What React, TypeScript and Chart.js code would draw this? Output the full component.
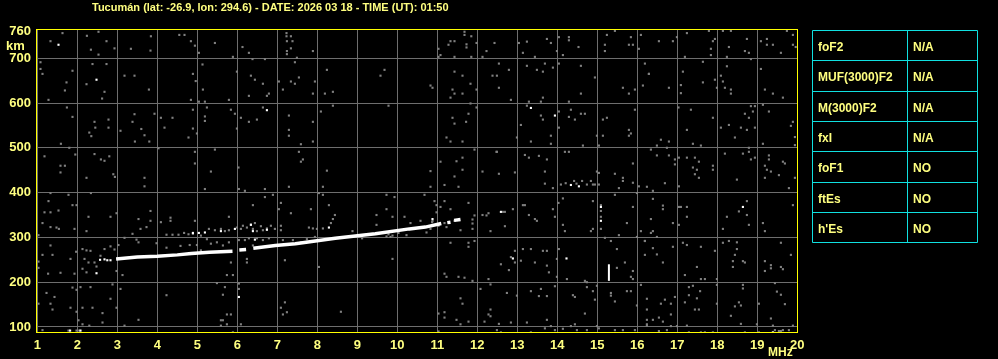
import React, { useEffect, useRef } from "react";
import { Chart, registerables } from "chart.js";

Chart.register(...registerables);

const TITLE = "Tucumán (lat: -26.9, lon: 294.6) - DATE: 2026 03 18 - TIME (UT): 01:50";
const FREQ_TICKS = [1, 2, 3, 4, 5, 6, 7, 8, 9, 10, 11, 12, 13, 14, 15, 16, 17, 18, 19, 20];
const HEIGHT_TICKS = [100, 200, 300, 400, 500, 600, 700, 760];
const X_UNIT = "MHz";
const Y_UNIT = "km";
const PARAM_NAMES = ["foF2", "MUF(3000)F2", "M(3000)F2", "fxI", "foF1", "ftEs", "h'Es"];
const PARAM_VALUES = ["N/A", "N/A", "N/A", "N/A", "NO", "NO", "NO"];

// F-layer trace (MHz, km); null km = gap in the echo
const TRACE_FREQ = [2.97, 3.5, 4.0, 4.5, 4.85, 5.3, 5.88, 5.95, 6.05, 6.22, 6.3, 6.4, 6.95, 7.45, 7.95, 8.45, 9.45, 10.3, 10.7, 11.1, 11.18, 11.25, 11.33, 11.38, 11.42, 11.58];
const TRACE_KM = [252, 256, 258, 261, 264, 267, 269, null, 272, 273, null, 276, 282, 286, 292, 298, 308, 319, 323, 331, null, 333, 334, null, 338, 340];

// vertical echo near 15.3 MHz
const SPIKE_FREQ = [15.29, 15.29];
const SPIKE_KM = [203, 240];

// bright single echoes
const WHITE_DOTS: [number, number][] = [
  [1.53, 730], [2.48, 652], [2.48, 220], [1.82, 92], [2.08, 92], [2.57, 250], [2.68, 251], [2.75, 249], [2.83, 249],
  [6.74, 584], [6.04, 167], [13.34, 589], [13.94, 572], [14.34, 417], [14.54, 414], [12.59, 357], [15.09, 337],
  [15.09, 368], [12.89, 253], [14.23, 253], [18.64, 368], [19.39, 88], [4.89, 310], [5.04, 310], [5.19, 311],
  [5.59, 314], [5.94, 319], [6.34, 328], [6.39, 314], [6.74, 317], [8.29, 322], [6.44, 295], [10.88, 341],
];

const GREY_DOTS_1_5: [number, number][] = [
  [1.63, 756], [2.24, 750], [2.34, 719], [2.53, 759], [2.53, 708], [2.73, 738], [2.93, 722], [3.34, 721], [3.84, 749],
  [3.83, 717], [4.55, 752], [4.68, 752], [1.33, 738], [1.08, 691], [1.08, 676], [1.13, 665], [1.88, 672], [1.73, 646],
  [1.69, 628], [2.38, 687], [2.73, 687], [2.23, 642], [2.62, 610], [2.68, 625], [3.18, 661], [3.43, 661], [3.79, 630],
  [1.28, 607], [1.74, 590], [1.88, 569], [2.43, 558], [2.78, 563], [2.45, 545], [2.3, 534], [2.35, 526], [2.78, 545],
  [3.08, 538], [3.43, 575], [3.38, 558], [3.6, 542], [3.68, 528], [3.44, 514], [3.8, 514], [3.93, 576], [4.09, 567],
  [4.38, 567], [4.18, 545], [4.78, 523], [1.59, 509], [1.18, 481], [1.58, 460], [1.69, 460], [1.58, 445], [1.8, 500],
  [1.95, 485], [2.43, 486], [2.59, 474], [2.68, 471], [2.8, 481], [2.23, 433], [2.9, 441], [2.94, 435], [3.68, 433],
  [3.68, 414], [4.03, 499], [1.33, 399], [1.28, 381], [1.78, 395], [1.88, 372], [1.98, 372], [1.33, 356], [1.53, 360],
  [1.18, 356], [1.13, 332], [1.33, 323], [1.48, 322], [1.54, 319], [1.93, 319], [2.23, 314], [2.28, 346], [2.34, 399],
  [2.83, 346], [2.98, 354], [3.38, 308], [3.53, 341], [3.58, 319], [3.73, 323], [3.83, 359], [3.83, 337], [4.09, 334],
  [4.33, 344], [4.33, 337], [4.23, 306], [4.38, 306], [4.53, 306], [4.67, 310], [4.78, 307], [1.03, 305], [2.13, 274],
  [2.23, 271], [2.33, 270], [2.18, 252], [2.28, 244], [2.13, 230], [2.23, 222], [2.43, 244], [2.48, 235], [2.58, 259],
  [2.68, 274], [2.83, 280], [2.93, 273], [3.03, 283], [3.18, 299], [3.48, 295], [3.53, 289], [3.98, 287], [4.58, 281],
  [1.97, 268], [1.83, 252], [1.33, 282], [1.38, 261], [1.13, 261], [1.03, 246], [1.03, 232], [1.27, 219], [1.58, 221],
  [1.93, 219], [3.13, 216], [2.98, 225], [4.23, 277], [2.88, 195], [3.08, 185], [1.23, 176], [1.43, 167], [1.88, 188],
  [1.98, 183], [2.08, 189], [2.33, 189], [1.33, 152], [1.03, 152], [1.38, 139], [1.83, 143], [1.98, 134], [2.13, 143],
  [2.38, 143], [2.63, 131], [2.98, 143], [2.83, 163], [4.23, 171], [3.53, 116], [2.63, 110], [2.13, 106], [2.3, 103],
  [3.18, 103], [1.13, 93], [2.03, 115], [1.78, 92], [1.98, 92], [2.05, 92],
];

const GREY_DOTS_5_9: [number, number][] = [
  [7.23, 756], [7.23, 749], [7.34, 749], [7.24, 738], [7.38, 738], [7.34, 722], [7.24, 716], [7.24, 709], [7.49, 701],
  [7.44, 691], [5.44, 734], [6.13, 725], [6.29, 712], [6.38, 698], [6.69, 698], [5.89, 703], [7.89, 716], [4.84, 738],
  [4.94, 728], [5.04, 712], [5.13, 686], [4.89, 665], [4.96, 649], [5.14, 630], [5.99, 670], [6.34, 661], [6.44, 652],
  [6.64, 643], [6.29, 616], [6.74, 616], [6.79, 621], [7.04, 648], [7.14, 630], [7.34, 648], [7.44, 643], [7.54, 657],
  [7.89, 621], [7.94, 648], [8.24, 674], [8.19, 621], [8.39, 625], [4.84, 607], [5.04, 603], [5.19, 603], [5.79, 607],
  [4.89, 585], [5.24, 590], [5.19, 570], [5.19, 560], [5.84, 585], [5.94, 576], [5.99, 543], [6.09, 567], [6.29, 558],
  [6.49, 563], [6.64, 590], [7.29, 572], [7.29, 540], [7.29, 527], [7.89, 558], [8.09, 581], [8.39, 594], [4.89, 543],
  [4.99, 532], [4.94, 491], [4.94, 465], [5.44, 496], [5.34, 447], [6.03, 456], [7.59, 508], [7.54, 491], [7.64, 474],
  [7.59, 469], [7.89, 514], [8.24, 449], [7.29, 413], [8.14, 413], [6.04, 408], [6.19, 404], [6.69, 408], [6.69, 390],
  [6.89, 395], [5.19, 408], [8.04, 399], [8.14, 395], [7.09, 377], [7.04, 363], [6.39, 372], [7.34, 354], [7.84, 363],
  [8.29, 372], [8.44, 350], [8.39, 341], [8.34, 332], [5.79, 346], [4.94, 337],
  [5.29, 319], [5.44, 316], [5.59, 319], [5.69, 314], [5.79, 316], [5.99, 322], [6.09, 319], [6.14, 326], [6.24, 322],
  [6.34, 329], [6.39, 319], [6.44, 332], [6.49, 314], [6.59, 325], [6.64, 316], [6.74, 320], [6.84, 326], [6.94, 319],
  [7.09, 326], [7.09, 316], [7.79, 322], [7.89, 320], [7.99, 319], [8.14, 320], [4.89, 308], [5.09, 304], [5.24, 296],
  [5.34, 286], [5.49, 289], [5.64, 282], [5.79, 289], [6.04, 294], [6.19, 294], [6.29, 298], [6.49, 298], [6.64, 294],
  [6.79, 298], [7.14, 294], [7.39, 294], [7.59, 289], [7.74, 296], [7.94, 301], [4.81, 283], [4.99, 283],
  [5.09, 271], [5.54, 268], [6.39, 282], [6.24, 252], [6.24, 244], [5.84, 244], [7.19, 249], [8.04, 234], [5.74, 216],
  [5.89, 216], [5.49, 198], [5.69, 189], [6.04, 197], [6.04, 185], [5.64, 172], [7.19, 155], [7.09, 143], [7.24, 133],
  [7.14, 128], [8.59, 134], [5.74, 128], [5.84, 128], [5.64, 115], [5.59, 115], [5.74, 106], [5.59, 103], [6.09, 106],
  [5.89, 88],
];

const GREY_DOTS_9_12: [number, number][] = [
  [11.68, 759], [11.68, 752], [11.85, 749], [11.33, 738], [11.43, 738], [11.28, 730], [11.73, 731], [11.73, 724],
  [11.98, 734], [12.43, 734], [11.03, 721], [11.08, 707], [11.03, 703], [11.43, 703], [11.85, 703], [12.23, 716],
  [12.13, 703], [9.68, 674], [9.58, 661], [10.83, 639], [10.88, 634], [11.43, 670], [11.63, 661], [11.83, 643],
  [11.38, 630], [11.43, 621], [11.33, 612], [11.63, 621], [11.98, 630], [12.38, 661], [9.78, 594], [11.83, 599],
  [11.98, 590], [11.78, 576], [11.38, 567], [11.43, 554], [11.23, 523], [11.33, 514], [11.63, 514], [11.72, 558],
  [11.93, 496], [11.08, 469], [11.48, 470], [11.63, 478], [11.63, 451], [10.83, 448], [11.43, 436], [11.18, 417],
  [11.53, 413], [10.83, 413], [12.13, 447], [12.48, 491], [9.73, 395], [9.93, 390], [10.68, 395], [10.93, 381],
  [11.18, 381], [10.98, 372], [11.08, 368], [11.33, 363], [11.78, 377], [9.73, 363], [9.48, 350], [9.48, 328],
  [9.88, 346], [10.18, 346], [10.33, 332], [10.58, 337], [10.98, 356], [10.88, 337], [11.93, 349], [12.13, 350],
  [12.23, 349], [12.28, 354], [11.88, 340], [11.88, 331], [11.88, 319], [12.33, 314], [11.58, 316], [11.23, 323],
  [8.88, 314], [10.23, 305], [9.88, 304], [9.83, 301], [11.33, 288], [11.78, 288], [11.78, 279], [11.93, 292],
  [9.88, 252], [11.18, 219], [11.23, 212], [11.53, 212], [11.68, 210], [11.88, 203], [12.28, 207], [12.33, 195],
  [12.08, 185], [11.58, 164], [11.63, 152], [11.03, 130], [11.18, 133], [11.18, 121], [11.48, 116], [11.78, 112],
  [12.18, 112], [12.28, 128], [12.33, 124], [12.33, 139], [11.03, 90], [11.58, 106], [9.12, 298], [9.73, 302],
  [9.78, 307], [10.03, 310], [10.73, 311], [10.83, 319], [10.87, 334], [11.03, 326], [11.18, 332], [11.43, 337],
];

const GREY_DOTS_12_16: [number, number][] = [
  [14.29, 747], [14.29, 740], [13.74, 743], [13.84, 734], [13.24, 737], [13.04, 734], [14.04, 747], [15.24, 752],
  [15.19, 730], [15.19, 716], [15.84, 747], [15.89, 730], [15.79, 730], [16.09, 752], [16.04, 721], [15.44, 761],
  [14.53, 725], [14.14, 707], [13.14, 712], [13.44, 703], [13.99, 716], [12.54, 688], [12.79, 674], [12.49, 661],
  [13.24, 683], [13.49, 674], [13.64, 670], [13.69, 688], [13.89, 679], [14.04, 688], [14.59, 683], [14.94, 657],
  [12.54, 634], [12.84, 607], [13.29, 603], [13.59, 603], [13.64, 612], [14.29, 603], [14.59, 621], [15.64, 634],
  [15.79, 621], [15.94, 630], [16.19, 688], [16.14, 639], [16.29, 665], [13.24, 594], [13.09, 551], [13.59, 572],
  [13.64, 563], [13.84, 527], [13.84, 509], [12.99, 523], [13.34, 514], [14.04, 581], [14.04, 545], [14.34, 585],
  [14.29, 569], [14.44, 563], [14.59, 576], [14.69, 576], [15.14, 563], [15.24, 567], [14.99, 527], [15.14, 527],
  [15.79, 540], [15.84, 532], [15.79, 527], [15.94, 585], [14.64, 505], [15.04, 505], [12.49, 491], [13.19, 484],
  [13.29, 478], [13.54, 482], [13.74, 474], [14.19, 491], [14.29, 491], [15.89, 465], [12.54, 442], [12.94, 445],
  [13.69, 447], [13.69, 420], [13.89, 410], [14.99, 447], [15.04, 444], [15.44, 442], [15.64, 433], [15.64, 426],
  [15.89, 422], [16.04, 414], [15.54, 410], [14.09, 418], [14.21, 421], [14.42, 426], [14.48, 420], [14.62, 426],
  [14.74, 418], [14.84, 426], [14.89, 418], [14.94, 418], [15.04, 418], [12.64, 357], [12.69, 357], [13.14, 372],
  [13.19, 372], [13.29, 350], [13.44, 341], [13.49, 337], [12.69, 325], [12.89, 363], [13.89, 363], [13.94, 346],
  [14.03, 377], [14.14, 387], [14.14, 328], [14.19, 314], [14.89, 381], [14.89, 319], [14.84, 314], [15.09, 372],
  [15.09, 359], [15.09, 346], [15.09, 319], [15.44, 395], [15.89, 368], [15.74, 332], [16.09, 314], [15.99, 399],
  [16.24, 413], [15.19, 299], [15.54, 305], [15.99, 301], [13.14, 274], [13.34, 274], [12.94, 270], [12.84, 256],
  [12.94, 244], [12.59, 240], [12.79, 227], [13.09, 248], [13.44, 244], [13.74, 237], [13.79, 222], [13.64, 270],
  [13.74, 270], [13.99, 252], [13.99, 212], [14.24, 207], [14.69, 203], [14.74, 200], [14.04, 274], [15.34, 292],
  [15.49, 274], [15.49, 232], [15.69, 244], [15.89, 225], [15.89, 207], [15.84, 212], [16.19, 261], [16.19, 292],
  [12.74, 176], [12.99, 170], [13.34, 180], [13.54, 169], [13.59, 185], [13.74, 169], [13.94, 191], [14.39, 171],
  [14.44, 167], [14.74, 189], [14.89, 180], [14.94, 161], [14.99, 192], [15.34, 176], [15.34, 170], [15.44, 157],
  [15.74, 180], [15.84, 180], [16.09, 194], [15.99, 148], [16.24, 139], [14.69, 130], [12.54, 107], [12.84, 110],
  [13.24, 110], [13.74, 116], [13.84, 102], [14.34, 102], [14.44, 106], [14.49, 93], [14.14, 96], [13.94, 93],
  [14.99, 102], [15.04, 97], [15.44, 93], [15.64, 93], [15.94, 93], [16.24, 106], [12.49, 93], [12.59, 88],
  [13.34, 88], [14.74, 93], [13.69, 97],
];

const GREY_DOTS_16_20: [number, number][] = [
  [17.24, 756], [17.79, 761], [18.14, 761], [18.34, 761], [17.94, 743], [17.89, 738], [17.84, 721], [17.84, 707],
  [16.54, 738], [16.89, 738], [16.99, 747], [17.19, 703], [18.29, 725], [18.24, 703], [18.69, 716], [18.79, 712],
  [18.74, 743], [19.09, 738], [19.24, 743], [19.24, 730], [19.39, 730], [19.59, 712], [19.74, 761], [19.89, 752],
  [19.89, 730], [19.96, 725], [16.29, 665], [16.79, 634], [17.09, 640], [17.09, 622], [17.14, 670], [17.64, 692],
  [17.64, 646], [17.94, 652], [18.09, 661], [18.14, 648], [18.19, 634], [18.24, 682], [18.34, 630], [18.34, 621],
  [18.84, 698], [19.09, 676], [19.19, 630], [19.39, 621], [19.64, 612], [17.99, 634], [17.03, 590], [17.34, 585],
  [17.89, 567], [17.24, 540], [18.29, 551], [18.09, 545], [18.44, 523], [18.59, 545], [18.69, 576], [18.79, 567],
  [18.74, 540], [18.84, 593], [18.94, 593], [18.89, 581], [18.94, 545], [19.14, 596], [19.29, 581], [19.14, 509],
  [19.89, 558], [19.84, 549], [19.94, 524], [19.94, 506], [16.59, 518], [16.79, 514], [16.49, 505], [16.74, 500],
  [17.39, 509], [17.59, 505], [16.34, 496], [16.49, 483], [16.79, 483], [16.94, 474], [16.94, 463], [17.04, 478],
  [17.24, 478], [17.44, 478], [17.54, 469], [17.39, 456], [17.49, 451], [17.44, 441], [17.54, 433], [17.89, 460],
  [17.89, 451], [18.19, 487], [18.64, 487], [18.79, 491], [18.84, 474], [18.94, 478], [18.79, 500], [19.19, 460],
  [19.29, 483], [19.29, 474], [19.24, 451], [19.34, 447], [19.64, 469], [19.69, 465], [19.54, 439], [19.94, 433],
  [19.19, 433], [17.04, 414], [16.69, 421], [18.49, 429], [19.79, 410], [16.39, 404], [16.39, 386], [16.64, 371],
  [16.64, 363], [17.04, 368], [17.09, 368], [17.24, 368], [17.24, 346], [17.04, 328], [16.89, 332], [16.34, 341],
  [16.39, 314], [16.34, 310], [16.49, 301], [18.24, 346], [18.54, 358], [18.74, 381], [18.74, 350], [18.79, 328],
  [18.14, 319], [19.14, 332], [19.19, 314], [19.89, 372], [16.19, 292], [16.39, 276], [16.49, 262], [16.64, 244],
  [16.89, 279], [17.14, 288], [17.24, 283], [17.59, 279], [17.94, 270], [18.14, 288], [18.29, 292], [18.49, 289],
  [18.49, 274], [18.44, 261], [18.39, 247], [18.39, 234], [18.64, 247], [18.69, 244], [17.49, 234], [17.19, 216],
  [17.59, 207], [17.69, 207], [17.99, 207], [19.34, 238], [19.34, 231], [19.59, 234], [19.64, 229], [19.19, 225],
  [19.59, 288], [19.84, 261], [19.19, 247], [17.29, 189], [17.39, 192], [17.29, 171], [17.57, 180], [17.99, 194],
  [18.64, 194], [18.64, 186], [19.44, 198], [19.49, 179], [19.59, 172], [19.69, 151], [19.04, 152], [16.24, 163],
  [16.59, 152], [16.69, 161], [16.84, 152], [16.84, 128], [16.94, 167], [17.19, 155], [17.44, 139], [17.49, 164],
  [17.54, 139], [17.99, 152], [18.34, 125], [18.44, 146], [18.54, 155], [18.59, 148], [16.24, 116], [16.39, 116],
  [16.54, 121], [16.64, 112], [16.24, 103], [16.84, 102], [16.99, 102], [17.24, 103], [18.59, 107], [18.99, 106],
  [19.34, 119], [19.39, 103], [19.44, 93], [19.64, 93], [19.79, 93], [19.89, 103], [16.54, 91], [16.74, 93],
  [17.29, 88], [17.59, 88], [17.69, 88], [17.89, 88], [18.69, 88], [19.04, 88], [19.54, 91], [19.59, 91],
];

const TEXT_COLOR = "#FFFF80";
const FRAME_COLOR = "#FFFF00";
const GRID_COLOR = "#6E6E6E";
const DOT_COLOR = "#808080";
const TABLE_COLOR = "#10E0E0";

const toPoints = (arr: [number, number][]) => arr.map(([x, y]) => ({ x, y }));

const decorPlugin = {
  id: "ionoDecor",
  afterDraw(chart: any) {
    const { ctx, chartArea } = chart;
    ctx.save();
    // frame
    ctx.strokeStyle = FRAME_COLOR;
    ctx.lineWidth = 1;
    ctx.strokeRect(chartArea.left + 0.5, chartArea.top + 0.5, chartArea.right - chartArea.left - 1, chartArea.bottom - chartArea.top - 1);
    // title
    ctx.fillStyle = TEXT_COLOR;
    ctx.textBaseline = "alphabetic";
    ctx.textAlign = "left";
    ctx.font = 'bold 11px "Liberation Sans", Arial, sans-serif';
    ctx.fillText(TITLE, 92, 11);
    // unit labels
    ctx.font = 'bold 13px "Liberation Sans", Arial, sans-serif';
    ctx.fillText(Y_UNIT, 6, 49.5);
    ctx.font = 'bold 12px "Liberation Sans", Arial, sans-serif';
    ctx.fillText(X_UNIT, 768, 356);
    // parameter table
    const tl = 812.5, tm = 907.5, tr = 977.5, tt = 30.5, rh = 30.3;
    const n = PARAM_NAMES.length;
    ctx.strokeStyle = TABLE_COLOR;
    ctx.lineWidth = 1;
    ctx.beginPath();
    for (let i = 0; i <= n; i++) {
      const y = Math.round(tt + i * rh - 0.5) + 0.5;
      ctx.moveTo(tl, y);
      ctx.lineTo(tr, y);
    }
    const yb = Math.round(tt + n * rh - 0.5) + 0.5;
    [tl, tm, tr].forEach((x) => {
      ctx.moveTo(x, tt);
      ctx.lineTo(x, yb);
    });
    ctx.stroke();
    ctx.fillStyle = TEXT_COLOR;
    ctx.font = 'bold 12px "Liberation Sans", Arial, sans-serif';
    for (let i = 0; i < n; i++) {
      const base = tt + i * rh + 20.5;
      ctx.fillText(PARAM_NAMES[i], 818, base);
      ctx.fillText(PARAM_VALUES[i], 913, base);
    }
    ctx.restore();
  },
};

export default function App() {
  const canvasRef = useRef<HTMLCanvasElement | null>(null);

  useEffect(() => {
    const canvas = canvasRef.current;
    if (!canvas) return;
    const trace = TRACE_FREQ.map((x, i) => ({ x, y: TRACE_KM[i] }));
    const spike = SPIKE_FREQ.map((x, i) => ({ x, y: SPIKE_KM[i] }));
    const grey = [
      ...toPoints(GREY_DOTS_1_5),
      ...toPoints(GREY_DOTS_5_9),
      ...toPoints(GREY_DOTS_9_12),
      ...toPoints(GREY_DOTS_12_16),
      ...toPoints(GREY_DOTS_16_20),
    ];
    const font = { family: '"Liberation Sans", Arial, sans-serif', size: 13, weight: "bold" as const };
    const chart = new Chart(canvas, {
      type: "scatter",
      data: {
        datasets: [
          {
            data: trace as any,
            showLine: true,
            spanGaps: false,
            borderColor: "#FFFFFF",
            borderWidth: 3.5,
            borderCapStyle: "butt",
            pointRadius: 0,
          },
          {
            data: spike as any,
            showLine: true,
            borderColor: "#FFFFFF",
            borderWidth: 2,
            pointRadius: 0,
          },
          {
            data: toPoints(WHITE_DOTS) as any,
            pointStyle: "rect",
            pointRadius: 1.5,
            backgroundColor: "#FFFFFF",
            borderWidth: 0,
          },
          {
            data: grey as any,
            pointStyle: "rect",
            pointRadius: 1.5,
            backgroundColor: DOT_COLOR,
            borderWidth: 0,
          },
        ],
      },
      options: {
        animation: false,
        responsive: false,
        maintainAspectRatio: false,
        devicePixelRatio: 1,
        layout: { padding: { top: 29, right: 200, left: 0, bottom: 0 } },
        plugins: { legend: { display: false }, tooltip: { enabled: false }, title: { display: false } },
        events: [],
        scales: {
          x: {
            type: "linear",
            min: 0.9675,
            max: 20.0175,
            afterBuildTicks: (s: any) => {
              s.ticks = FREQ_TICKS.map((v) => ({ value: v }));
            },
            afterFit: (s: any) => {
              s.height = 26;
            },
            grid: { color: GRID_COLOR, lineWidth: 1, drawTicks: false },
            border: { display: false },
            ticks: { color: TEXT_COLOR, font, padding: 5, maxRotation: 0, autoSkip: false },
          },
          y: {
            type: "linear",
            min: 86.6,
            max: 765.2,
            afterBuildTicks: (s: any) => {
              s.ticks = HEIGHT_TICKS.map((v) => ({ value: v }));
            },
            afterFit: (s: any) => {
              s.width = 36;
            },
            grid: {
              color: (c: any) => (c.tick && c.tick.value === 760 ? "rgba(0,0,0,0)" : GRID_COLOR),
              lineWidth: 1,
              drawTicks: false,
            },
            border: { display: false },
            ticks: { color: TEXT_COLOR, font, padding: 5, autoSkip: false },
          },
        },
      },
      plugins: [decorPlugin],
    } as any);
    return () => chart.destroy();
  }, []);

  return (
    <div style={{ position: "fixed", left: 0, top: 0, width: 998, height: 359, background: "#000" }}>
      <canvas ref={canvasRef} width={998} height={359} style={{ display: "block" }} />
    </div>
  );
}
